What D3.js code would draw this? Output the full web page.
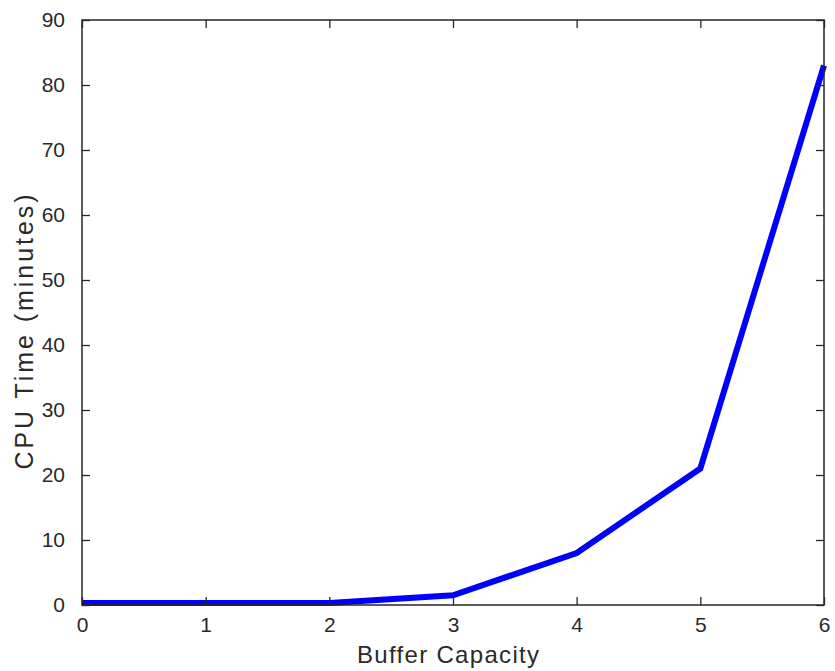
<!DOCTYPE html>
<html>
<head>
<meta charset="utf-8">
<script src="https://cdn.jsdelivr.net/npm/d3@7/dist/d3.min.js"></script>
<style>
  html, body { margin: 0; padding: 0; background: #fff; }
  svg text { font-family: "Liberation Sans", Arial, Helvetica, sans-serif; fill: #2a2a2a; }
</style>
</head>
<body>
<svg id="chart" width="835" height="671"></svg>
<script>
// Buffer capacity vs. CPU time
const bufferCapacity = [0, 1, 2, 3, 4, 5, 6];
const cpuMinutes = [0.3, 0.3, 0.3, 1.5, 8, 21, 83];
const xTicks = [0, 1, 2, 3, 4, 5, 6];
const yTicks = [0, 10, 20, 30, 40, 50, 60, 70, 80, 90];

const svg = d3.select("#chart");
const box = { left: 82, right: 824, top: 20, bottom: 605 };

const x = d3.scaleLinear().domain([0, 6]).range([box.left, box.right]);
const y = d3.scaleLinear().domain([0, 90]).range([box.bottom, box.top]);

const tickLen = 8;
const axisColor = "#262626";

// data line
const line = d3.line().x((d, i) => x(bufferCapacity[i])).y(d => y(d));
svg.append("path")
  .datum(cpuMinutes)
  .attr("d", line)
  .attr("fill", "none")
  .attr("stroke", "#0000ff")
  .attr("stroke-width", 6)
  .attr("stroke-linejoin", "miter");

// axes box with inward ticks on all sides
const bottomAxis = d3.axisBottom(x).tickValues(xTicks).tickSizeInner(-tickLen).tickSizeOuter(0).tickPadding(12).tickFormat(d3.format("d"));
const topAxis = d3.axisTop(x).tickValues(xTicks).tickSizeInner(-tickLen).tickSizeOuter(0).tickFormat("");
const leftAxis = d3.axisLeft(y).tickValues(yTicks).tickSizeInner(-tickLen).tickSizeOuter(0).tickPadding(17).tickFormat(d3.format("d"));
const rightAxis = d3.axisRight(y).tickValues(yTicks).tickSizeInner(-tickLen).tickSizeOuter(0).tickFormat("");

function style(g) {
  g.select(".domain").remove();
  g.selectAll(".tick line").attr("stroke", axisColor).attr("stroke-width", 1.3);
  g.selectAll(".tick text").attr("font-size", 21).attr("font-family", "Liberation Sans, Arial, sans-serif").attr("fill", "#2a2a2a");
}

svg.append("g").attr("transform", `translate(0,${box.bottom})`).call(bottomAxis).call(style);
svg.append("g").attr("transform", `translate(0,${box.top})`).call(topAxis).call(style);
svg.append("g").attr("transform", `translate(${box.left},0)`).call(leftAxis).call(style);
svg.append("g").attr("transform", `translate(${box.right},0)`).call(rightAxis).call(style);

svg.append("rect")
  .attr("x", box.left).attr("y", box.top)
  .attr("width", box.right - box.left).attr("height", box.bottom - box.top)
  .attr("fill", "none").attr("stroke", axisColor).attr("stroke-width", 1.5);

// axis titles
svg.append("text")
  .attr("x", 448).attr("y", 663)
  .attr("text-anchor", "middle")
  .attr("font-size", 24)
  .attr("textLength", 182)
  .attr("lengthAdjust", "spacing")
  .text("Buffer Capacity");

svg.append("text")
  .attr("transform", "translate(33,332) rotate(-90)")
  .attr("text-anchor", "middle")
  .attr("font-size", 25)
  .attr("textLength", 275)
  .attr("lengthAdjust", "spacing")
  .text("CPU Time (minutes)");
</script>
</body>
</html>
